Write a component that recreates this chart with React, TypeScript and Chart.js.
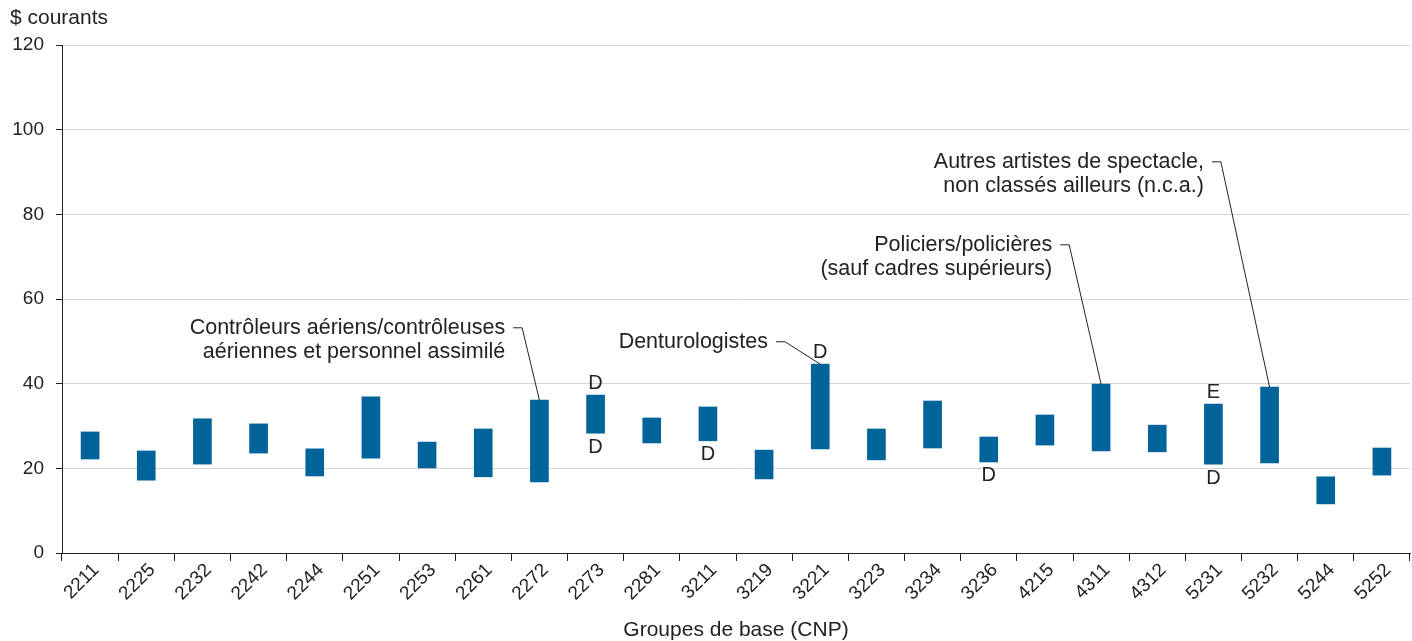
import React, { useEffect, useRef } from "react";
import { Chart, registerables } from "chart.js";
Chart.register(...registerables);

const categories = ["2211","2225","2232","2242","2244","2251","2253","2261","2272","2273","2281","3211","3219","3221","3223","3234","3236","4215","4311","4312","5231","5232","5244","5252"];
const lows = [22.2,17.2,21.0,23.6,18.2,22.4,20.1,18.0,16.8,28.3,26.0,26.5,17.5,24.6,22.0,24.8,21.5,25.5,24.1,23.9,21.0,21.3,11.6,18.4];
const highs = [28.6,24.1,31.7,30.5,24.6,36.9,26.2,29.3,36.1,37.3,31.9,34.5,24.3,44.6,29.3,35.9,27.4,32.6,39.9,30.2,35.2,39.2,18.0,24.8];
const topFlags = ["","","","","","","","","","D","","","","D","","","","","","","E","","",""];
const bottomFlags = ["","","","","","","","","","D","","D","","","","","D","","","","D","","",""];
const yTickValues = [0,20,40,60,80,100,120];
const yAxisLabel = "$ courants";
const xAxisLabel = "Groupes de base (CNP)";

// annotation: target bar index, text lines, text right edge (category units), first line centre (value units)
const annTargets = [8, 13, 18, 21];
const annLines = [
  ["Contrôleurs aériens/contrôleuses", "aériennes et personnel assimilé"],
  ["Denturologistes"],
  ["Policiers/policières", "(sauf cadres supérieurs)"],
  ["Autres artistes de spectacle,", "non classés ailleurs (n.c.a.)"],
];
const annTextRight = [7.39, 12.07, 17.13, 19.83];
const annTextY = [53.2, 49.9, 72.8, 92.4];

const FONT = "'Liberation Sans', Arial, sans-serif";
const TEXT = "#222222";
const BAR = "#00649a";

const overlay = {
  id: "overlay",
  afterDatasetsDraw(chart: any) {
    const { ctx, scales, chartArea } = chart;
    const y = scales.y;
    const meta = chart.getDatasetMeta(0);
    ctx.save();
    ctx.fillStyle = TEXT;
    ctx.font = `20px ${FONT}`;
    ctx.textAlign = "center";
    meta.data.forEach((el: any, i: number) => {
      const cx = el.x;
      if (topFlags[i]) {
        ctx.textBaseline = "bottom";
        ctx.fillText(topFlags[i], cx, y.getPixelForValue(highs[i]) - 2);
      }
      if (bottomFlags[i]) {
        ctx.textBaseline = "top";
        ctx.fillText(bottomFlags[i], cx, y.getPixelForValue(lows[i]) + 4);
      }
    });
    // annotations
    const catW = (chartArea.right - chartArea.left) / categories.length;
    const px = (v: number) => chartArea.left + (v + 0.5) * catW;
    ctx.font = `21.5px ${FONT}`;
    ctx.textAlign = "right";
    ctx.textBaseline = "middle";
    ctx.strokeStyle = TEXT;
    ctx.lineWidth = 1;
    annTargets.forEach((t, k) => {
      const right = px(annTextRight[k]);
      const y0 = y.getPixelForValue(annTextY[k]);
      annLines[k].forEach((line, j) => ctx.fillText(line, right, y0 + j * 24));
      const bar = meta.data[t];
      ctx.beginPath();
      ctx.moveTo(right + 8, y0);
      ctx.lineTo(right + 17, y0);
      ctx.lineTo(bar.x, y.getPixelForValue(highs[t]));
      ctx.stroke();
    });
    // axis titles
    ctx.font = `21px ${FONT}`;
    ctx.textAlign = "left";
    ctx.textBaseline = "middle";
    ctx.fillText(yAxisLabel, 10, 18);
    ctx.textAlign = "center";
    ctx.fillText(xAxisLabel, (chartArea.left + chartArea.right) / 2, 630);
    ctx.restore();
  },
};

export default function App() {
  const ref = useRef<HTMLCanvasElement | null>(null);
  useEffect(() => {
    if (!ref.current) return;
    const chart = new Chart(ref.current, {
      type: "bar",
      data: {
        labels: categories,
        datasets: [
          {
            data: lows.map((l, i) => [l, highs[i]]) as any,
            backgroundColor: BAR,
            barThickness: 18,
          },
        ],
      },
      options: {
        responsive: false,
        animation: false,
        devicePixelRatio: 1,
        layout: { padding: { top: 45, right: 2, left: 0, bottom: 0 } },
        plugins: { legend: { display: false }, tooltip: { enabled: false } },
        scales: {
          x: {
            offset: true,
            grid: { display: true, drawOnChartArea: false, tickLength: 8, color: "#222", offset: true },
            border: { color: "#222", width: 1 },
            ticks: { color: TEXT, font: { family: FONT, size: 19 }, maxRotation: 45, minRotation: 45, autoSkip: false, padding: -2, labelOffset: 6 },
            afterFit: (s: any) => { s.height = 88; },
          },
          y: {
            min: 0,
            max: 120,
            afterBuildTicks: (s: any) => { s.ticks = yTickValues.map((v) => ({ value: v })); },
            grid: { color: "#d4d4d4", tickColor: "#222", tickLength: 6 },
            border: { color: "#222", width: 1 },
            ticks: { color: TEXT, font: { family: FONT, size: 19 }, padding: 12 },
            afterFit: (s: any) => { s.width = 62; },
          },
        },
      },
      plugins: [overlay],
    });
    return () => chart.destroy();
  }, []);
  return (
    <div style={{ position: "fixed", left: 0, top: 0, width: 1412, height: 641, background: "#fff" }}>
      <canvas ref={ref} width={1412} height={641} />
    </div>
  );
}
